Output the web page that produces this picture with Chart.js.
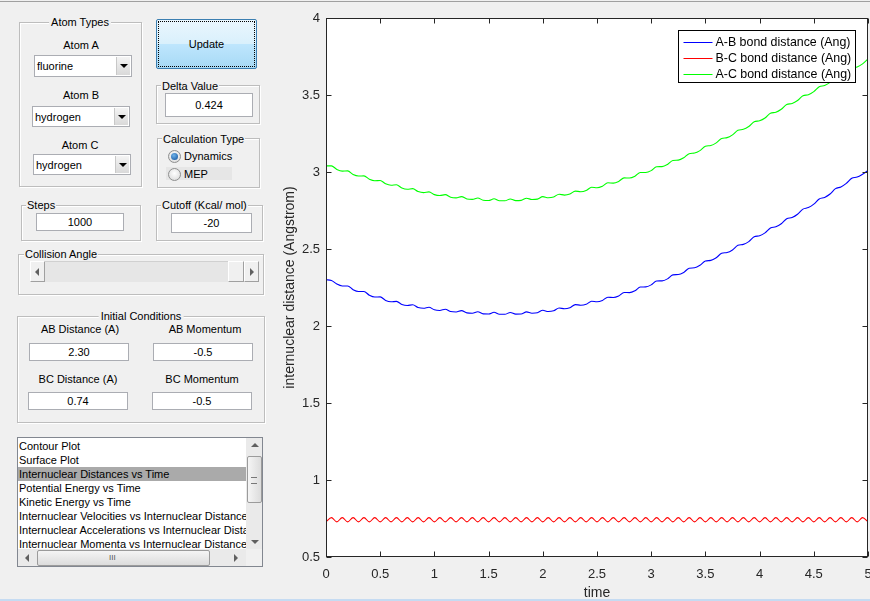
<!DOCTYPE html>
<html>
<head>
<meta charset="utf-8">
<script src="https://cdn.jsdelivr.net/npm/chart.js@4.4.0/dist/chart.umd.min.js"></script>
<style>
body { margin:0; width:870px; height:601px; background:#f0f0f0; overflow:hidden; position:relative;
       font-family:"Liberation Sans", Arial, sans-serif; font-size:11px; color:#000; }
#topline { position:absolute; left:0; top:1px; width:870px; height:1px; background:#a0a0a0; }
#botline { position:absolute; left:0; top:599px; width:870px; height:2px; background:#c5dbf2; }
.panel { position:absolute; box-sizing:border-box; border:1px solid #bdbdbd; box-shadow:inset 1px 1px 0 #fff, 1px 1px 0 #fff; }
.ttl { position:absolute; background:#f0f0f0; padding:0 1px; line-height:13px; white-space:nowrap; transform:translateY(-50%); }
.lbl { position:absolute; line-height:13px; white-space:nowrap; transform:translate(-50%,-50%); }
.edit { position:absolute; box-sizing:border-box; background:#fff; border:1px solid #abadb3;
        display:flex; align-items:center; justify-content:center; }
.popup { position:absolute; box-sizing:border-box; background:#fff; border:1px solid #abadb3; }
.popup span { position:absolute; left:2px; top:50%; transform:translateY(-50%); }
.drop { position:absolute; right:1px; top:1px; bottom:1px; width:13px; background:linear-gradient(#f4f4f4,#d9d9d9); border-left:1px solid #c8c8c8; }
.drop i { position:absolute; left:3px; top:7px; width:0; height:0; border-left:4px solid transparent; border-right:4px solid transparent; border-top:4px solid #000; }
#update { position:absolute; left:156px; top:19px; width:101px; height:50px; box-sizing:border-box; border:1px solid #3c7fb1; border-radius:2px;
          background:linear-gradient(#eaf6fd 0%, #d9f0fc 50%, #bee6fd 51%, #a7d9f5 100%); }
#update div { position:absolute; left:1px; top:1px; right:1px; bottom:1px; border:1px dotted #000;
              display:flex; align-items:center; justify-content:center; }
.radio { position:absolute; width:13px; height:13px; box-sizing:border-box; border-radius:50%; border:1px solid #8e8f8f;
         background:radial-gradient(circle at 50% 40%, #ffffff, #d6d6d6); }
.radio.on::after { content:''; position:absolute; left:2px; top:2px; width:7px; height:7px; border-radius:50%;
                   background:radial-gradient(circle at 40% 35%, #6fb3ea, #0d4d99); }
.btn { position:absolute; box-sizing:border-box; background:#f0f0f0; border:1px solid; border-color:#fff #a0a0a0 #a0a0a0 #fff; }
.tri-l { position:absolute; width:0; height:0; border-top:4px solid transparent; border-bottom:4px solid transparent; border-right:4px solid #606060; }
.tri-r { position:absolute; width:0; height:0; border-top:4px solid transparent; border-bottom:4px solid transparent; border-left:4px solid #606060; }
.tri-u { position:absolute; width:0; height:0; border-left:4px solid transparent; border-right:4px solid transparent; border-bottom:4px solid #606060; }
.tri-d { position:absolute; width:0; height:0; border-left:4px solid transparent; border-right:4px solid transparent; border-top:4px solid #606060; }
#list { position:absolute; left:17px; top:437px; width:246px; height:130px; box-sizing:border-box; background:#fff; border:1px solid #828790; overflow:hidden; }
#list .item { position:absolute; left:0; width:228px; height:14px; line-height:14px; padding-left:1px; white-space:nowrap; overflow:hidden; }
#list .sel { background:#aaaaaa; }
#distChart { position:absolute; left:270px; top:0; }
</style>
</head>
<body>
<div id="topline"></div>
<div id="botline"></div>

<!-- atom types -->
<div class="panel" style="left:19px;top:22px;width:123px;height:165px;"></div>
<div class="lbl" style="left:80px;top:22px;background:#f0f0f0;padding:0 2px;">Atom Types</div>
<div class="lbl" style="left:81px;top:45px;">Atom A</div>
<div class="popup" style="left:34px;top:55px;width:98px;height:22px;"><span>fluorine</span><div class="drop"><i></i></div></div>
<div class="lbl" style="left:81px;top:95px;">Atom B</div>
<div class="popup" style="left:32px;top:106px;width:98px;height:21px;"><span>hydrogen</span><div class="drop"><i></i></div></div>
<div class="lbl" style="left:80px;top:145px;">Atom C</div>
<div class="popup" style="left:33px;top:154px;width:98px;height:21px;"><span>hydrogen</span><div class="drop"><i></i></div></div>

<div id="update"><div>Update</div></div>

<div class="panel" style="left:156px;top:85px;width:104px;height:39px;"></div>
<div class="ttl" style="left:161px;top:86px;">Delta Value</div>
<div class="edit" style="left:165px;top:93px;width:88px;height:24px;">0.424</div>

<div class="panel" style="left:157px;top:138px;width:103px;height:50px;"></div>
<div class="ttl" style="left:162px;top:139px;">Calculation Type</div>
<div class="radio on" style="left:168px;top:150px;"></div>
<div class="ttl" style="left:183px;top:156px;background:none;">Dynamics</div>
<div style="position:absolute;left:166px;top:167px;width:66px;height:13px;background:#e6e6e6;"></div>
<div class="radio" style="left:168px;top:168px;"></div>
<div class="ttl" style="left:183px;top:174px;background:none;">MEP</div>

<!-- steps / cutoff -->
<div class="panel" style="left:21px;top:205px;width:120px;height:36px;"></div>
<div class="ttl" style="left:26px;top:205px;">Steps</div>
<div class="edit" style="left:36px;top:213px;width:88px;height:18px;">1000</div>
<div class="panel" style="left:156px;top:205px;width:107px;height:36px;"></div>
<div class="ttl" style="left:161px;top:205px;">Cutoff (Kcal/ mol)</div>
<div class="edit" style="left:171px;top:213px;width:81px;height:20px;">-20</div>

<!-- collision angle -->
<div class="panel" style="left:18px;top:254px;width:246px;height:41px;"></div>
<div class="ttl" style="left:24px;top:254px;">Collision Angle</div>
<div style="position:absolute;left:30px;top:261px;width:229px;height:21px;background:#e6e6e6;border-top:1px solid #d0d0d0;box-sizing:border-box;"></div>
<div class="btn" style="left:30px;top:261px;width:15px;height:21px;"><div class="tri-l" style="left:4px;top:6px;"></div></div>
<div class="btn" style="left:228px;top:261px;width:16px;height:21px;"></div>
<div class="btn" style="left:244px;top:261px;width:15px;height:21px;"><div class="tri-r" style="left:5px;top:6px;"></div></div>

<!-- initial conditions -->
<div class="panel" style="left:17px;top:316px;width:248px;height:107px;"></div>
<div class="lbl" style="left:141px;top:316px;background:#f0f0f0;padding:0 2px;">Initial Conditions</div>
<div class="lbl" style="left:80px;top:329px;">AB Distance (A)</div>
<div class="lbl" style="left:205px;top:329px;">AB Momentum</div>
<div class="edit" style="left:29px;top:343px;width:100px;height:18px;">2.30</div>
<div class="edit" style="left:153px;top:343px;width:100px;height:18px;">-0.5</div>
<div class="lbl" style="left:78px;top:379px;">BC Distance (A)</div>
<div class="lbl" style="left:202px;top:379px;">BC Momentum</div>
<div class="edit" style="left:28px;top:392px;width:100px;height:18px;">0.74</div>
<div class="edit" style="left:152px;top:392px;width:100px;height:18px;">-0.5</div>

<!-- plot list -->
<div id="list">
  <div class="item" style="top:1px;">Contour Plot</div>
  <div class="item" style="top:15px;">Surface Plot</div>
  <div class="item sel" style="top:29px;">Internuclear Distances vs Time</div>
  <div class="item" style="top:43px;">Potential Energy vs Time</div>
  <div class="item" style="top:57px;">Kinetic Energy vs Time</div>
  <div class="item" style="top:71px;">Internuclear Velocities vs Internuclear Distances</div>
  <div class="item" style="top:85px;">Internuclear Accelerations vs Internuclear Distances</div>
  <div class="item" style="top:99px;">Internuclear Momenta vs Internuclear Distances</div>
  <div style="position:absolute;left:228px;top:0;width:17px;height:111px;background:#eaeaea;"></div>
  <div class="tri-u" style="left:233px;top:5px;"></div>
  <div style="position:absolute;left:229px;top:18px;width:15px;height:47px;box-sizing:border-box;border:1px solid #9b9b9b;border-radius:2px;background:linear-gradient(90deg,#f5f5f5,#dcdcdc);"></div>
  <div style="position:absolute;left:233px;top:39px;width:6px;height:5px;border-top:1px solid #777;border-bottom:1px solid #777;"></div>
  <div class="tri-d" style="left:233px;top:102px;"></div>
  <div style="position:absolute;left:0;top:111px;width:228px;height:18px;background:#eaeaea;"></div>
  <div class="tri-l" style="left:7px;top:116px;"></div>
  <div style="position:absolute;left:19px;top:112px;width:173px;height:16px;box-sizing:border-box;border:1px solid #9b9b9b;border-radius:2px;background:linear-gradient(#f5f5f5,#dcdcdc);"></div>
  <div style="position:absolute;left:91px;top:116px;font-size:8px;line-height:8px;color:#555;">III</div>
  <div class="tri-r" style="left:216px;top:116px;"></div>
  <div style="position:absolute;left:228px;top:111px;width:17px;height:18px;background:#f0f0f0;"></div>
</div>

<canvas id="distChart" width="600" height="601"></canvas>

<script>
var timeValues = [
    0, 0.05, 0.1, 0.15, 0.2, 0.25, 0.3, 0.35, 0.4, 0.45,
    0.5, 0.55, 0.6, 0.65, 0.7, 0.75, 0.8, 0.85, 0.9, 0.95,
    1, 1.05, 1.1, 1.15, 1.2, 1.25, 1.3, 1.35, 1.4, 1.45,
    1.5, 1.55, 1.6, 1.65, 1.7, 1.75, 1.8, 1.85, 1.9, 1.95,
    2, 2.05, 2.1, 2.15, 2.2, 2.25, 2.3, 2.35, 2.4, 2.45,
    2.5, 2.55, 2.6, 2.65, 2.7, 2.75, 2.8, 2.85, 2.9, 2.95,
    3, 3.05, 3.1, 3.15, 3.2, 3.25, 3.3, 3.35, 3.4, 3.45,
    3.5, 3.55, 3.6, 3.65, 3.7, 3.75, 3.8, 3.85, 3.9, 3.95,
    4, 4.05, 4.1, 4.15, 4.2, 4.25, 4.3, 4.35, 4.4, 4.45,
    4.5, 4.55, 4.6, 4.65, 4.7, 4.75, 4.8, 4.85, 4.9, 4.95,
    5
];
var abDistance = [
    2.300, 2.296, 2.272, 2.260, 2.260, 2.236, 2.224, 2.224, 2.200, 2.188,
    2.189, 2.166, 2.157, 2.160, 2.140, 2.133, 2.138, 2.120, 2.115, 2.122,
    2.105, 2.101, 2.109, 2.094, 2.091, 2.100, 2.085, 2.083, 2.093, 2.079,
    2.078, 2.089, 2.076, 2.076, 2.088, 2.077, 2.078, 2.092, 2.083, 2.086,
    2.102, 2.094, 2.099, 2.117, 2.112, 2.119, 2.139, 2.135, 2.141, 2.161,
    2.157, 2.166, 2.187, 2.185, 2.195, 2.218, 2.217, 2.229, 2.253, 2.254,
    2.267, 2.292, 2.293, 2.306, 2.332, 2.334, 2.348, 2.375, 2.378, 2.394,
    2.422, 2.426, 2.443, 2.472, 2.477, 2.494, 2.524, 2.530, 2.548, 2.579,
    2.586, 2.605, 2.636, 2.644, 2.664, 2.696, 2.705, 2.726, 2.759, 2.769,
    2.791, 2.825, 2.835, 2.857, 2.892, 2.903, 2.926, 2.959, 2.967, 2.986,
    3.010
];
var bcDistance = [
    0.728, 0.756, 0.728, 0.756, 0.728, 0.756, 0.728, 0.756, 0.728, 0.756,
    0.728, 0.756, 0.728, 0.756, 0.728, 0.756, 0.728, 0.756, 0.728, 0.756,
    0.728, 0.756, 0.728, 0.756, 0.728, 0.756, 0.728, 0.756, 0.728, 0.756,
    0.728, 0.756, 0.728, 0.756, 0.728, 0.756, 0.728, 0.756, 0.728, 0.756,
    0.728, 0.756, 0.728, 0.756, 0.728, 0.756, 0.728, 0.756, 0.728, 0.756,
    0.728, 0.756, 0.728, 0.756, 0.728, 0.756, 0.728, 0.756, 0.728, 0.756,
    0.728, 0.756, 0.728, 0.756, 0.728, 0.756, 0.728, 0.756, 0.728, 0.756,
    0.728, 0.756, 0.728, 0.756, 0.728, 0.756, 0.728, 0.756, 0.728, 0.756,
    0.728, 0.756, 0.728, 0.756, 0.728, 0.756, 0.728, 0.756, 0.728, 0.756,
    0.728, 0.756, 0.728, 0.756, 0.728, 0.756, 0.728, 0.756, 0.728, 0.756,
    0.728
];
var acDistance = [
    3.040, 3.040, 3.017, 3.006, 3.007, 2.984, 2.974, 2.975, 2.953, 2.943,
    2.945, 2.923, 2.914, 2.917, 2.896, 2.888, 2.892, 2.873, 2.866, 2.871,
    2.853, 2.847, 2.853, 2.836, 2.832, 2.840, 2.825, 2.822, 2.831, 2.817,
    2.815, 2.826, 2.813, 2.813, 2.825, 2.814, 2.816, 2.830, 2.821, 2.824,
    2.840, 2.833, 2.838, 2.856, 2.850, 2.857, 2.876, 2.872, 2.880, 2.901,
    2.898, 2.908, 2.930, 2.928, 2.939, 2.962, 2.961, 2.973, 2.997, 2.997,
    3.009, 3.034, 3.035, 3.049, 3.075, 3.077, 3.092, 3.119, 3.123, 3.139,
    3.167, 3.172, 3.189, 3.218, 3.223, 3.241, 3.271, 3.277, 3.295, 3.326,
    3.333, 3.351, 3.382, 3.388, 3.407, 3.438, 3.445, 3.464, 3.495, 3.502,
    3.522, 3.554, 3.562, 3.582, 3.614, 3.622, 3.642, 3.674, 3.682, 3.702,
    3.734
];
var seriesNames = ['A-B bond distance (Ang)', 'B-C bond distance (Ang)', 'A-C bond distance (Ang)'];
var xTicks = [0, 0.5, 1, 1.5, 2, 2.5, 3, 3.5, 4, 4.5, 5];
var yTicks = [0.5, 1, 1.5, 2, 2.5, 3, 3.5, 4];

function toPoints(values) {
    return values.map(function(v, i) { return {x: timeValues[i], y: v}; });
}

var axisColor = '#262626';
var tickFont = {family: '"Liberation Sans", Arial, sans-serif', size: 13};
var titleFont = {family: '"Liberation Sans", Arial, sans-serif', size: 14};

// matlab style axes: white box, inward ticks on all four sides, legend in the corner
var matlabBox = {
    id: 'matlabBox',
    beforeDraw: function(chart) {
        var a = chart.chartArea, ctx = chart.ctx;
        ctx.save();
        ctx.fillStyle = '#fff';
        ctx.fillRect(a.left, a.top, a.right - a.left, a.bottom - a.top);
        ctx.restore();
    },
    afterDatasetsDraw: function(chart) {
        var a = chart.chartArea, ctx = chart.ctx;
        var xs = chart.scales.x, ys = chart.scales.y;
        var l = Math.round(a.left) + 0.5, r = Math.round(a.right) - 0.5;
        var t = Math.round(a.top) + 0.5, b = Math.round(a.bottom) - 0.5;
        ctx.save();
        ctx.strokeStyle = axisColor;
        ctx.lineWidth = 1;
        ctx.beginPath();
        xTicks.forEach(function(v) {
            var px = Math.round(xs.getPixelForValue(v)) + 0.5;
            ctx.moveTo(px, b); ctx.lineTo(px, b - 5);
            ctx.moveTo(px, t); ctx.lineTo(px, t + 5);
        });
        yTicks.forEach(function(v) {
            var py = Math.round(ys.getPixelForValue(v)) + 0.5;
            ctx.moveTo(l, py); ctx.lineTo(l + 5, py);
            ctx.moveTo(r, py); ctx.lineTo(r - 5, py);
        });
        ctx.stroke();
        ctx.strokeRect(l, t, r - l, b - t);

        ctx.font = '12.4px "Liberation Sans", Arial, sans-serif';
        var sets = chart.data.datasets;
        var textW = 0;
        sets.forEach(function(ds) { textW = Math.max(textW, ctx.measureText(ds.label).width); });
        var w = Math.round(37 + textW + 4), h = 52;
        var bx = Math.round(a.right - 13 - w) + 0.5, by = Math.round(a.top + 12) + 0.5;
        ctx.fillStyle = '#fff';
        ctx.fillRect(bx, by, w, h);
        ctx.strokeStyle = '#000';
        ctx.strokeRect(bx, by, w, h);
        ctx.textBaseline = 'middle';
        sets.forEach(function(ds, i) {
            var yy = Math.round(by + 11 + i * 16) + 0.5;
            ctx.strokeStyle = ds.borderColor;
            ctx.beginPath();
            ctx.moveTo(bx + 5, yy); ctx.lineTo(bx + 34, yy);
            ctx.stroke();
            ctx.fillStyle = '#000';
            ctx.fillText(ds.label, bx + 37, yy);
        });
        ctx.restore();
    }
};

function noEdgePadding(scale) {
    scale.paddingLeft = 0;
    scale.paddingRight = 0;
    scale.paddingTop = 0;
    scale.paddingBottom = 0;
}

var options = {
    type: 'line',
    data: {
        datasets: [{
            label: seriesNames[0],
            data: toPoints(abDistance),
            borderColor: '#0000ff'
        }, {
            label: seriesNames[1],
            data: toPoints(bcDistance),
            borderColor: '#ff0000'
        }, {
            label: seriesNames[2],
            data: toPoints(acDistance),
            borderColor: '#00ff00'
        }]
    },
    options: {
        responsive: false,
        animation: false,
        layout: {padding: {left: 8, right: 2, top: 18, bottom: 0}},
        elements: {
            point: {radius: 0},
            line: {borderWidth: 1.1, cubicInterpolationMode: 'monotone'}
        },
        plugins: {legend: {display: false}, tooltip: {enabled: false}},
        scales: {
            x: {
                type: 'linear', min: 0, max: 5,
                afterBuildTicks: function(scale) { scale.ticks = xTicks.map(function(v) { return {value: v}; }); },
                afterFit: function(scale) { scale.height = 44; noEdgePadding(scale); },
                grid: {display: false, drawTicks: false},
                border: {display: false},
                ticks: {color: axisColor, font: tickFont, padding: 10, maxRotation: 0,
                        callback: function(v) { return String(v); }},
                title: {display: true, text: 'time', color: axisColor, font: titleFont, padding: {top: 0, bottom: -1}}
            },
            y: {
                type: 'linear', min: 0.5, max: 4,
                afterBuildTicks: function(scale) { scale.ticks = yTicks.map(function(v) { return {value: v}; }); },
                afterFit: function(scale) { scale.width = 48; noEdgePadding(scale); },
                grid: {display: false, drawTicks: false},
                border: {display: false},
                ticks: {color: axisColor, font: tickFont, padding: 6,
                        callback: function(v) { return String(v); }},
                title: {display: true, text: 'internuclear distance (Angstrom)', color: axisColor, font: titleFont, padding: {top: 4, bottom: 0}}
            }
        }
    },
    plugins: [matlabBox]
};

var distChart = new Chart(document.getElementById('distChart'), options);
</script>
</body>
</html>
